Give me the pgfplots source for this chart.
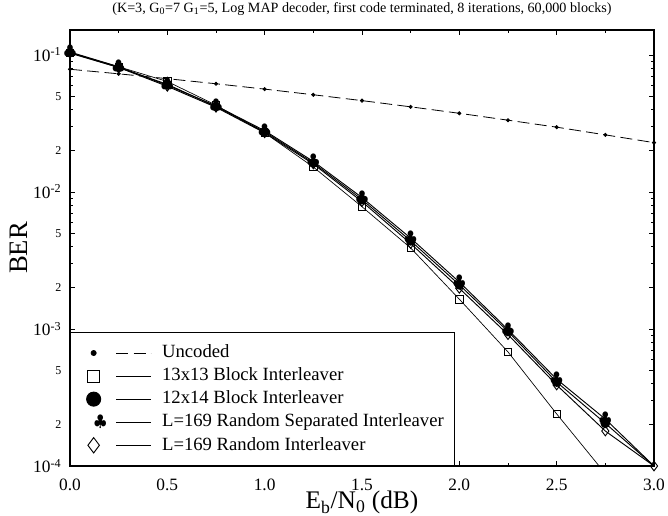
\documentclass[border=0pt]{standalone}
\usepackage{fontspec}
\setmainfont{Liberation Serif}
\usepackage{pgfplots}
\pgfplotsset{compat=1.18}
\newcommand{\st}[1]{{\fontsize{9}{9}\selectfont #1}}
\newcommand{\dec}[1]{10\textsuperscript{#1}}
\begin{document}
\begin{tikzpicture}
\useasboundingbox (-52.5pt,-36.75pt) rectangle (448.5pt,349.5pt);
\begin{axis}[
    at={(0,0)}, anchor=south west,
    scale only axis, width=438pt, height=327pt,
    ymode=log,
    xmin=0, xmax=3, ymin=1e-4, ymax=0.152,
    xtick={0,0.5,...,3}, minor x tick num=1,
    xticklabel style={/pgf/number format/fixed, /pgf/number format/fixed zerofill,
        /pgf/number format/precision=1, /pgf/number format/assume math mode=true,
        anchor=base, yshift=-18pt},
    ytick={1e-4,2e-4,5e-4,1e-3,2e-3,5e-3,1e-2,2e-2,5e-2,1e-1},
    yticklabels={\dec{-4},\st{2},\st{5},\dec{-3},\st{2},\st{5},\dec{-2},\st{2},\st{5},\dec{-1}},
    minor ytick={3e-4,4e-4,6e-4,7e-4,8e-4,9e-4,3e-3,4e-3,6e-3,7e-3,8e-3,9e-3,3e-2,4e-2,6e-2,7e-2,8e-2,9e-2},
    major tick length=4pt, minor tick length=2pt,
    every tick/.style={black, line width=0.6pt},
    axis line style={line width=1pt},
    tick label style={font=\fontsize{13}{13}\selectfont},
    yticklabel style={xshift=-3pt},
    title={(K=3, G\textsubscript{0}=7 G\textsubscript{1}=5, Log MAP decoder, first code terminated, 8 iterations, 60,000 blocks)},
    title style={font=\fontsize{10.6}{10.6}\selectfont, at={(axis description cs:0.5,1)}, anchor=base, yshift=7.5pt},
    xlabel={E\textsubscript{b}/N\textsubscript{0} (dB)},
    ylabel={BER},
    every axis x label/.style={at={(axis description cs:0.5,0)}, anchor=base, yshift=-32pt, font=\fontsize{19}{19}\selectfont},
    every axis y label/.style={at={(axis description cs:0,0.5)}, xshift=-38.5pt, rotate=90, anchor=center, font=\fontsize{20}{20}\selectfont},
    legend cell align=left,
    legend style={at={(0,0)}, anchor=south west, draw=black, line width=0.8pt, fill=white,
        font=\fontsize{14}{14}\selectfont, inner xsep=6pt, inner ysep=6.5pt,
        nodes={text height=10.2pt, text depth=3.1pt, inner sep=2pt}},
    legend image code/.code={
        \path (-11pt,0pt) (49pt,0pt);
        \draw[#1,mark=none] (17pt,0pt) -- (43pt,0pt);
        \draw[#1,only marks,every mark/.append style={scale=1.6}] plot coordinates {(0pt,0pt)};
    },
]
\addplot[black, line width=0.6pt, dash pattern=on 9pt off 4pt, mark=*, mark size=1.2pt, mark options={solid}]
coordinates {(0,0.0786) (0.25,0.0728) (0.5,0.0671) (0.75,0.0616) (1,0.0563) (1.25,0.0512) (1.5,0.0464)
 (1.75,0.0418) (2,0.0375) (2.25,0.0334) (2.5,0.0297) (2.75,0.0261) (3,0.0229)};
\addlegendentry{Uncoded}
\addplot[black, line width=0.5pt, mark=square, mark size=2.75pt, mark indices={1,...,11}]
coordinates {(0,0.104) (0.25,0.082) (0.5,0.064) (0.75,0.043) (1,0.027) (1.25,0.0152) (1.5,0.0078)
 (1.75,0.0039) (2,0.00165) (2.25,0.00068) (2.5,0.00024) (2.75,0.000088)};
\addlegendentry{13x13 Block Interleaver}
\addplot[black, line width=0.7pt, mark=*, mark size=3.3pt, mark indices={1,...,12}]
coordinates {(0,0.104) (0.25,0.081) (0.5,0.061) (0.75,0.042) (1,0.0275) (1.25,0.0163) (1.5,0.0088)
 (1.75,0.0044) (2,0.0021) (2.25,0.00096) (2.5,0.00041) (2.75,0.000205) (3,0.0001)};
\addlegendentry{12x14 Block Interleaver}
\addplot[black, line width=0.7pt, mark=text, text mark as node=true, mark indices={1,...,12},
    text mark={$\clubsuit$}, text mark style={font=\fontsize{13}{13}\selectfont, inner sep=0pt}]
coordinates {(0,0.105) (0.25,0.082) (0.5,0.060) (0.75,0.0425) (1,0.028) (1.25,0.0167) (1.5,0.0091)
 (1.75,0.0046) (2,0.0022) (2.25,0.00099) (2.5,0.00043) (2.75,0.00022) (3,0.0001)};
\addlegendentry{L=169 Random Separated Interleaver}
\addplot[black, line width=0.7pt, mark=diamond, mark size=3.6pt, mark options={fill=white}]
coordinates {(0,0.103) (0.25,0.081) (0.5,0.059) (0.75,0.0415) (1,0.027) (1.25,0.016) (1.5,0.0085)
 (1.75,0.0042) (2,0.00198) (2.25,0.00091) (2.5,0.00039) (2.75,0.00018) (3,0.0001)};
\addlegendentry{L=169 Random Interleaver}
\end{axis}
\end{tikzpicture}
\end{document}
